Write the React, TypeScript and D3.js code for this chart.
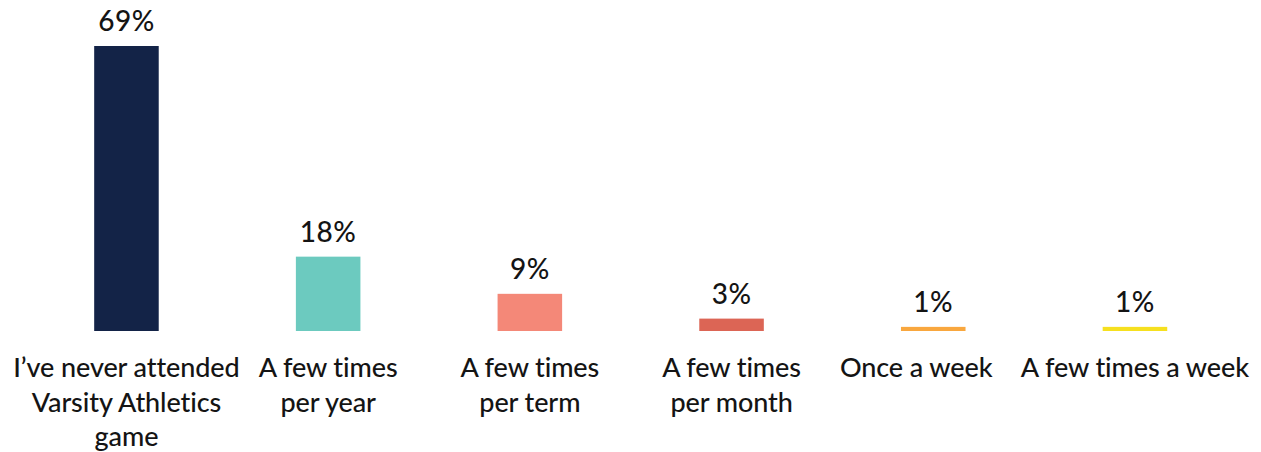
import React from "react";
import * as d3 from "d3";

const categories: string[][] = [
  ["I’ve never attended", "Varsity Athletics", "game"],
  ["A few times", "per year"],
  ["A few times", "per term"],
  ["A few times", "per month"],
  ["Once a week"],
  ["A few times a week"],
];
const values: number[] = [69, 18, 9, 3, 1, 1];
const colors: string[] = ["#132347", "#6ccabf", "#f48878", "#dc6555", "#f9a73e", "#f6e01f"];

// layout tweak: the "Once a week" label sits slightly left of its bar in the original
const labelDx: number[] = [0, 0, 0, 0, -17, 0];

const W = 1261;
const H = 452;
const baseline = 331;

export default function App() {
  const x = d3
    .scaleBand<number>()
    .domain(values.map((_, i) => i))
    .range([25.6, 1235.8])
    .paddingInner(0.68)
    .paddingOuter(0.34);
  const y = d3.scaleLinear().domain([0, 69]).range([baseline, 46]);
  const font = "Lato, 'Open Sans', sans-serif";
  return (
    <svg
      width={W}
      height={H}
      style={{ position: "absolute", left: 0, top: 0, background: "#fff" }}
      fontFamily={font}
    >
      {values.map((v, i) => {
        const bx = x(i)!;
        const cx = bx + x.bandwidth() / 2;
        return (
          <g key={i}>
            <rect x={bx} y={y(v)} width={x.bandwidth()} height={baseline - y(v)} fill={colors[i]} />
            <text x={cx} y={y(v) - 15} textAnchor="middle" fontSize={28} fontWeight={500} fill="#141414" letterSpacing={0.5}>
              {v}%
            </text>
            <text textAnchor="middle" fontSize={27} fontWeight={500} fill="#141414" letterSpacing={-0.1}>
              {categories[i].map((line, j) => (
                <tspan key={j} x={cx + labelDx[i]} y={377 + j * 34.5}>
                  {line}
                </tspan>
              ))}
            </text>
          </g>
        );
      })}
    </svg>
  );
}
